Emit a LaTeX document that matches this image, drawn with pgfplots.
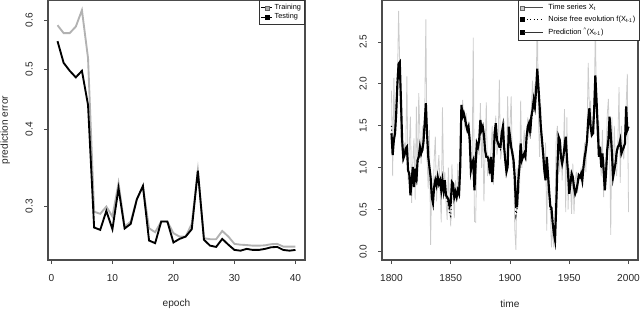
\documentclass[border=0pt]{standalone}
\usepackage{fontspec}
\setmainfont{Liberation Sans}
\usepackage{pgfplots}
\pgfplotsset{compat=1.18}
\usepackage{pgfplotstable}

\definecolor{trgray}{gray}{0.70}
\definecolor{tsgray}{gray}{0.80}
\definecolor{boxc}{gray}{0.30}

\pgfplotstableread{
ep train test
1 0.589 0.555
2 0.572 0.512
3 0.572 0.497
4 0.586 0.485
5 0.623 0.497
6 0.521 0.4376
7 0.294 0.2772
8 0.2917 0.2748
9 0.2997 0.2949
10 0.2888 0.2755
11 0.327 0.3209
12 0.278 0.2762
13 0.2835 0.281
14 0.308 0.308
15 0.323 0.3237
16 0.2765 0.2641
17 0.2724 0.2615
18 0.2835 0.2835
19 0.2835 0.2835
20 0.2714 0.2622
21 0.268 0.2657
22 0.268 0.268
23 0.281 0.2755
24 0.3427 0.3427
25 0.2664 0.2648
26 0.2654 0.2591
27 0.2654 0.2579
28 0.2737 0.2657
29 0.268 0.26
30 0.2608 0.255
31 0.2600 0.2543
32 0.2597 0.256
33 0.2591 0.255
34 0.2591 0.255
35 0.2594 0.256
36 0.2605 0.2575
37 0.2608 0.2579
38 0.2582 0.255
39 0.2582 0.2543
40 0.2582 0.255
}\errtable

\pgfplotstableread{
yr X F P
1800 1.92 1.50 1.41
1801 0.90 1.20 1.15
1802 2.07 1.30 1.33
1803 1.40 1.45 1.41
1804 1.60 1.75 1.65
1805 2.00 2.10 2.00
1806 2.87 2.25 2.24
1807 2.20 2.20 2.26
1808 1.30 1.70 1.80
1809 1.20 1.30 1.33
1810 1.10 1.12 1.11
1811 1.30 1.18 1.15
1812 1.15 1.22 1.23
1813 2.09 1.20 1.25
1814 0.85 0.95 0.97
1815 1.25 0.90 0.93
1816 1.61 0.70 0.67
1817 0.58 0.82 0.85
1818 1.05 0.98 1.01
1819 1.35 0.80 0.77
1820 0.62 0.95 0.99
1821 1.73 0.85 0.83
1822 0.80 1.05 1.09
1823 1.89 1.10 1.13
1824 1.40 1.22 1.25
1825 1.05 1.15 1.17
1826 1.50 1.20 1.21
1827 1.20 1.28 1.31
1828 1.60 1.48 1.53
1829 2.77 1.70 1.77
1830 1.10 1.45 1.41
1831 0.75 1.15 1.13
1832 1.45 1.00 1.01
1833 0.08 0.90 0.89
1834 0.90 0.70 0.65
1835 0.55 0.62 0.58
1836 1.10 0.78 0.77
1837 1.37 0.88 0.85
1838 0.60 0.82 0.79
1839 0.95 0.90 0.89
1840 1.15 0.85 0.81
1841 0.75 0.88 0.85
1842 0.35 0.78 0.73
1843 1.72 0.88 0.85
1844 0.80 0.75 0.73
1845 0.95 0.80 0.85
1846 0.60 0.65 0.67
1847 0.38 0.60 0.65
1848 1.00 0.55 0.62
1849 0.55 0.45 0.54
1850 0.30 0.42 0.58
1851 1.04 0.70 0.83
1852 0.70 0.80 0.81
1853 0.40 0.68 0.65
1854 0.85 0.72 0.71
1855 0.60 0.68 0.65
1856 1.05 0.75 0.73
1857 0.65 0.72 0.69
1858 0.75 0.95 1.01
1859 1.50 1.65 1.75
1860 1.81 1.70 1.61
1861 1.60 1.62 1.65
1862 1.45 1.55 1.59
1863 1.65 1.50 1.51
1864 1.40 1.45 1.45
1865 1.55 1.45 1.49
1866 1.40 1.30 1.33
1867 1.00 1.00 0.97
1868 0.95 1.00 1.05
1869 2.55 1.05 1.09
1870 0.36 0.80 0.73
1871 0.35 1.00 1.05
1872 1.10 1.25 1.29
1873 1.28 1.25 1.25
1874 1.15 1.30 1.33
1875 1.77 1.50 1.57
1876 1.00 1.45 1.45
1877 1.50 1.45 1.49
1878 0.60 1.35 1.39
1879 1.20 1.20 1.21
1880 1.78 1.15 1.13
1881 0.90 1.10 1.13
1882 1.15 1.05 1.09
1883 1.00 0.95 0.93
1884 1.20 1.08 1.13
1885 1.50 0.88 0.83
1886 0.80 1.00 1.05
1887 1.37 1.35 1.41
1888 1.62 1.50 1.53
1889 1.15 1.35 1.33
1890 1.30 1.28 1.29
1891 2.05 1.25 1.25
1892 1.10 1.22 1.25
1893 1.20 1.38 1.41
1894 1.40 1.45 1.49
1895 1.56 1.28 1.25
1896 1.05 1.10 1.09
1897 0.95 0.98 0.95
1898 1.85 1.00 1.01
1899 1.20 1.42 1.49
1900 1.50 1.38 1.37
1901 1.85 1.22 1.25
1902 1.00 1.15 1.17
1903 1.20 1.05 1.09
1904 0.28 0.80 0.89
1905 0.02 0.43 0.54
1906 1.00 0.50 0.54
1907 0.90 0.80 0.85
1908 0.70 1.00 1.01
1909 1.80 1.25 1.29
1910 1.00 1.10 1.09
1911 1.20 1.12 1.13
1912 1.45 1.15 1.17
1913 1.10 1.12 1.13
1914 1.40 1.30 1.37
1915 1.60 1.45 1.49
1916 1.35 1.50 1.53
1917 1.50 1.40 1.41
1918 1.70 1.55 1.61
1919 2.04 1.65 1.69
1920 1.70 1.75 1.81
1921 2.00 1.70 1.73
1922 1.80 1.85 1.92
1923 2.87 2.10 2.18
1924 1.60 1.95 1.96
1925 1.13 1.70 1.73
1926 1.75 1.45 1.49
1927 1.20 1.30 1.33
1928 1.00 1.10 1.17
1929 0.90 0.95 0.97
1930 1.30 0.85 0.85
1931 0.25 1.05 1.13
1932 1.10 0.90 0.93
1933 0.70 0.70 0.73
1934 0.50 0.50 0.54
1935 0.05 0.45 0.52
1936 0.30 0.38 0.34
1937 0.05 0.28 0.22
1938 0.50 0.20 0.14
1939 1.37 0.50 0.54
1940 1.50 0.95 1.01
1941 1.20 1.30 1.37
1942 0.95 1.30 1.33
1943 1.30 1.10 1.13
1944 0.85 1.05 1.05
1945 1.20 1.10 1.13
1946 1.70 1.22 1.25
1947 0.47 1.30 1.37
1948 1.60 1.10 1.13
1949 0.50 0.90 0.93
1950 1.00 0.72 0.69
1951 0.80 0.80 0.81
1952 0.45 0.90 0.93
1953 1.05 0.88 0.89
1954 0.45 0.78 0.77
1955 0.85 0.72 0.69
1956 0.95 0.75 0.73
1957 0.70 0.80 0.81
1958 0.90 0.88 0.91
1959 0.85 0.88 0.89
1960 1.00 0.90 0.93
1961 0.80 0.85 0.85
1962 1.10 1.00 1.01
1963 1.30 1.10 1.13
1964 0.95 1.20 1.21
1965 1.40 1.30 1.33
1966 2.25 1.50 1.57
1967 1.70 1.65 1.71
1968 1.80 1.50 1.49
1969 1.35 1.40 1.39
1970 1.60 1.40 1.41
1971 1.40 1.62 1.69
1972 2.85 2.00 2.10
1973 1.50 1.80 1.81
1974 1.30 1.50 1.49
1975 1.55 1.15 1.13
1976 1.10 1.20 1.25
1977 0.90 1.00 1.01
1978 1.45 1.12 1.17
1979 0.65 0.95 0.97
1980 1.10 0.75 0.73
1981 1.00 0.90 0.93
1982 1.62 1.15 1.21
1983 1.82 1.30 1.33
1984 1.30 1.55 1.61
1985 0.20 1.40 1.41
1986 1.60 1.15 1.17
1987 0.85 0.90 0.89
1988 1.50 0.95 0.97
1989 1.00 1.02 1.05
1990 0.90 1.15 1.19
1991 1.30 1.22 1.25
1992 1.96 1.25 1.27
1993 0.82 1.30 1.33
1994 1.50 1.18 1.17
1995 1.20 1.20 1.21
1996 1.10 1.22 1.25
1997 1.40 1.28 1.29
1998 1.75 1.65 1.73
1999 2.12 1.45 1.45
2000 0.47 1.45 1.49
}\tstable

\pgfplotsset{
  rstyle/.style={
    scale only axis,
    anchor=south west,
    height=195pt,
    axis line style={boxc, line width=0.8pt},
    tick style={boxc, line width=0.6pt},
    tick align=outside,
    major tick length=3pt,
    xtick pos=lower, ytick pos=left,
    minor tick num=0,
    tick label style={font=\fontsize{7.6}{9}\selectfont, text=black!85},
    /pgf/number format/assume math mode=true,
    /pgf/number format/1000 sep={},
    yticklabel style={rotate=90, anchor=south},
    yticklabel shift=5pt,
    xticklabel shift=4pt,
    every axis x label/.style={at={(axis description cs:0.5,0)}, anchor=center, yshift=-33pt, font=\fontsize{7.6}{9}\selectfont, text=black!85},
    every axis y label/.style={at={(axis description cs:0,0.5)}, xshift=-32pt, rotate=90, anchor=center, font=\fontsize{7.6}{9}\selectfont, text=black!85},
    legend cell align=left,
  },
}

\begin{document}
\begin{tikzpicture}
\useasboundingbox (0,0) rectangle (480pt,234pt);

% left panel
\begin{axis}[rstyle,
  at={(36pt,39pt)}, width=192.75pt,
  xmin=-0.56, xmax=41.56,
  ymode=log, ymin=0.2456, ymax=0.647,
  xtick={0,10,20,30,40},
  ytick={0.3,0.4,0.5,0.6},
  yticklabels={0.3,0.4,0.5,0.6},
  xlabel={epoch}, ylabel={prediction error},
  legend style={at={(rel axis cs:1,1)}, anchor=north east,
    font=\fontsize{5.5}{6}\selectfont, draw=black!80, line width=0.5pt,
    inner sep=0.8pt, row sep=-2.5pt, column sep=0pt},
]
\addlegendimage{legend image code/.code={\path (0pt,0pt) -- (8pt,0pt);\draw[fill=trgray, draw=black!60, line width=0.3pt] (3pt,-1.5pt) rectangle (6pt,1.5pt);}}
\addlegendentry{Training}
\addlegendimage{legend image code/.code={\path (0pt,0pt) -- (8pt,0pt);\fill[black] (3pt,-1.5pt) rectangle (6pt,1.5pt);}}
\addlegendentry{Testing}
\addplot[forget plot, trgray, line width=1.4pt] table[x=ep, y=train] {\errtable};
\addplot[forget plot, black, line width=1.4pt] table[x=ep, y=test] {\errtable};
\end{axis}

% right panel
\begin{axis}[rstyle,
  at={(286.5pt,39pt)}, width=192pt,
  xmin=1792, xmax=2008,
  ymin=-0.1, ymax=3.0,
  xtick={1800,1850,1900,1950,2000},
  ytick={0,0.5,1,1.5,2,2.5},
  yticklabel style={/pgf/number format/.cd, fixed, fixed zerofill, precision=1},
  xlabel={time},
  legend style={at={(rel axis cs:1,1)}, anchor=north east, xshift=1pt,
    font=\fontsize{5.6}{6}\selectfont, draw=black!80, line width=0.5pt,
    inner sep=0.8pt, row sep=-0.8pt, column sep=0pt},
]
\addlegendimage{legend image code/.code={\draw[fill=tsgray, draw=black!60, line width=0.3pt] (1pt,-1.5pt) rectangle (4pt,1.5pt);\draw[black!70, line width=0.5pt] (4pt,0pt) -- (18pt,0pt);\path (20pt,0pt);}}
\addlegendentry{Time series X\textsubscript{t}}
\addlegendimage{legend image code/.code={\fill[black] (1pt,-1.5pt) rectangle (4pt,1.5pt);\draw[black, line width=0.6pt, dotted] (6pt,0pt) -- (18pt,0pt);\path (20pt,0pt);}}
\addlegendentry{Noise free evolution f(X\textsubscript{t-1})}
\addlegendimage{legend image code/.code={\fill[black] (1pt,-1.5pt) rectangle (4pt,1.5pt);\draw[black!80, line width=0.6pt] (4pt,0pt) -- (18pt,0pt);\path (20pt,0pt);}}
\addlegendentry{Prediction \textsuperscript{\textasciicircum}(X\textsubscript{t-1})}
\addplot[forget plot, tsgray, line width=0.6pt] table[x=yr, y=X] {\tstable};
\addplot[forget plot, black, line width=0.8pt, dotted] table[x=yr, y=F] {\tstable};
\addplot[forget plot, black, line width=1.6pt] table[x=yr, y=P] {\tstable};
\end{axis}
\end{tikzpicture}
\end{document}
